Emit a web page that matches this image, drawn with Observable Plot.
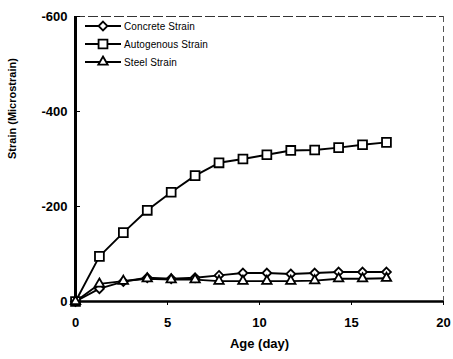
<!DOCTYPE html>
<html>
<head>
<meta charset="utf-8">
<script src="https://cdn.jsdelivr.net/npm/d3@7"></script>
<script src="https://cdn.jsdelivr.net/npm/@observablehq/plot@0.6"></script>
<style>
  html, body { margin: 0; padding: 0; background: #fff; }
  #wrap { position: relative; width: 453px; height: 359px; font-family: "Liberation Sans", Arial, sans-serif; }
  #legend { position: absolute; left: 84px; top: 17px; font-size: 10px; color: #000; }
  #legend .row { display: flex; align-items: center; height: 18px; }
  #legend svg { display: block; }
  #legend span { margin-left: 2px; letter-spacing: 0.1px; }
</style>
</head>
<body>
<div id="wrap"></div>
<script>
const ages = [0, 1.3, 2.6, 3.9, 5.2, 6.5, 7.8, 9.1, 10.4, 11.7, 13, 14.3, 15.6, 16.9];
const concreteStrain = [0, -27, -42, -50, -48, -50, -55, -60, -60, -58, -60, -62, -62, -62];
const autogenousStrain = [0, -95, -145, -192, -230, -265, -292, -300, -309, -318, -319, -324, -330, -335];
const steelStrain = [0, -37, -43, -48, -46, -46, -43, -43, -43, -43, -44, -48, -48, -49];
const seriesNames = ["Concrete Strain", "Autogenous Strain", "Steel Strain"];
const seriesSymbols = ["diamond2", "square", "triangle"];
const xTicks = [0, 5, 10, 15, 20];
const yTicks = [0, -200, -400, -600];

const allSeries = [concreteStrain, autogenousStrain, steelStrain];
const rows = [];
allSeries.forEach((vals, s) => {
  ages.forEach((a, i) => rows.push({series: seriesNames[s], age: a, strain: vals[i]}));
});

const symR = {"diamond2": 4.0, "square": 5, "triangle": 3.5};

const marks = [
  Plot.ruleX([20], {stroke: "#555", strokeWidth: 1, strokeDasharray: "6,4"}),
  Plot.ruleY([-600], {stroke: "#333", strokeWidth: 1, strokeDasharray: "10,3"}),
  Plot.ruleX([0], {stroke: "#000", strokeWidth: 3}),
  Plot.ruleY([0], {stroke: "#000", strokeWidth: 2.5}),
  Plot.axisX({ticks: xTicks, tickSize: 4, tickPadding: 12, tickFormat: d => String(d),
    fontSize: 13, fontWeight: "bold", label: "Age (day)", labelAnchor: "center", labelArrow: "none", labelOffset: 46}),
  Plot.axisY({ticks: yTicks, tickSize: -5, tickPadding: 13, tickFormat: d => String(d),
    fontSize: 13, fontWeight: "bold", label: null}),
  Plot.text(["Strain (Microstrain)"], {frameAnchor: "left", dx: -63, rotate: -90, fontSize: 11, fontWeight: "bold"}),
  Plot.line(rows, {x: "age", y: "strain", z: "series", stroke: "#000", strokeWidth: 1.9})
];
seriesNames.forEach((name, s) => {
  marks.push(Plot.dot(rows.filter(r => r.series === name), {
    x: "age", y: "strain", symbol: () => seriesSymbols[s], r: symR[seriesSymbols[s]],
    fill: "#fff", stroke: "#000", strokeWidth: 1.8
  }));
});

const chart = Plot.plot({
  width: 453,
  height: 359,
  marginLeft: 75,
  marginRight: 10,
  marginTop: 16,
  marginBottom: 58,
  style: {fontFamily: "'Liberation Sans', Arial, sans-serif", color: "#000", background: "#fff"},
  x: {domain: [0, 20]},
  y: {domain: [0, -600]},
  symbol: {type: "identity"},
  marks
});
const wrap = document.getElementById("wrap");
wrap.appendChild(chart);

// Legend (HTML overlay, symbols built with d3.symbol)
const legend = document.createElement("div");
legend.id = "legend";
const d3Sym = {"diamond2": d3.symbolDiamond2, "square": d3.symbolSquare, "triangle": d3.symbolTriangle};
seriesNames.forEach((name, s) => {
  const row = document.createElement("div");
  row.className = "row";
  const sym = seriesSymbols[s];
  const r = symR[sym];
  const path = d3.symbol(d3Sym[sym], Math.PI * r * r)();
  row.innerHTML = `<svg width="38" height="14"><line x1="1" x2="37" y1="7" y2="7" stroke="#000" stroke-width="2.2"/><path transform="translate(19,7)" d="${path}" fill="#fff" stroke="#000" stroke-width="1.8"/></svg><span>${name}</span>`;
  legend.appendChild(row);
});
wrap.appendChild(legend);
</script>
</body>
</html>
